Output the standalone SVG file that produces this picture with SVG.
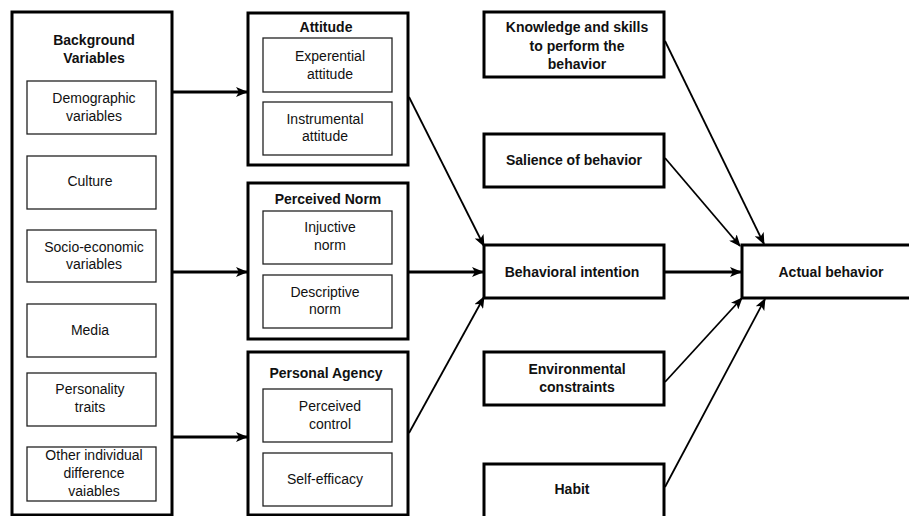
<svg xmlns="http://www.w3.org/2000/svg" width="909" height="516" viewBox="0 0 909 516">
  <style>
    .outer { fill: #fff; stroke: #000; stroke-width: 3; }
    .inner { fill: #fff; stroke: #222; stroke-width: 1.3; }
    text { font-family: "Liberation Sans", Arial, sans-serif; font-size: 14px; fill: #111; text-anchor: middle; }
    .b { font-weight: bold; }
    .thick { stroke: #000; stroke-width: 3; fill: none; }
    .thin { stroke: #000; stroke-width: 1.8; fill: none; }
  </style>
  <defs>
    <marker id="ah" viewBox="0 0 12 10" refX="11" refY="5" markerWidth="12" markerHeight="10" markerUnits="userSpaceOnUse" orient="auto">
      <path d="M0,0 L12,5 L0,10 L3,5 Z" fill="#000"/>
    </marker>
  </defs>
  <rect width="909" height="516" fill="#fff"/>

  <!-- Background variables column -->
  <g id="background">
    <rect class="outer" x="12" y="12" width="160" height="503"/>
    <text class="b" x="94" y="45">Background</text>
    <text class="b" x="94" y="63">Variables</text>
    <rect class="inner" x="27" y="81" width="129" height="53"/>
    <text x="94" y="103">Demographic</text>
    <text x="94" y="121">variables</text>
    <rect class="inner" x="27" y="156" width="129" height="53"/>
    <text x="90" y="186">Culture</text>
    <rect class="inner" x="27" y="230" width="129" height="52"/>
    <text x="94" y="252">Socio-economic</text>
    <text x="94" y="269">variables</text>
    <rect class="inner" x="27" y="304" width="129" height="53"/>
    <text x="90" y="335">Media</text>
    <rect class="inner" x="27" y="373" width="129" height="53"/>
    <text x="90" y="394">Personality</text>
    <text x="90" y="412">traits</text>
    <rect class="inner" x="27" y="447" width="129" height="54"/>
    <text x="94" y="460">Other individual</text>
    <text x="94" y="478">difference</text>
    <text x="94" y="496">vaiables</text>
  </g>

  <!-- Attitude -->
  <g id="attitude">
    <rect class="outer" x="248" y="13" width="160" height="152"/>
    <text class="b" x="326" y="32">Attitude</text>
    <rect class="inner" x="263" y="38" width="129" height="54"/>
    <text x="330" y="61">Experential</text>
    <text x="330" y="79">attitude</text>
    <rect class="inner" x="263" y="102" width="129" height="53"/>
    <text x="325" y="124">Instrumental</text>
    <text x="325" y="141">attitude</text>
  </g>

  <!-- Perceived norm -->
  <g id="perceived-norm">
    <rect class="outer" x="248" y="183" width="160" height="156"/>
    <text class="b" x="328" y="204">Perceived Norm</text>
    <rect class="inner" x="263" y="211" width="129" height="53"/>
    <text x="330" y="232">Injuctive</text>
    <text x="330" y="250">norm</text>
    <rect class="inner" x="263" y="275" width="129" height="53"/>
    <text x="325" y="297">Descriptive</text>
    <text x="325" y="314">norm</text>
  </g>

  <!-- Personal agency -->
  <g id="personal-agency">
    <rect class="outer" x="248" y="352" width="160" height="163"/>
    <text class="b" x="326" y="378">Personal Agency</text>
    <rect class="inner" x="263" y="389" width="129" height="53"/>
    <text x="330" y="411">Perceived</text>
    <text x="330" y="429">control</text>
    <rect class="inner" x="263" y="453" width="129" height="53"/>
    <text x="325" y="484">Self-efficacy</text>
  </g>

  <!-- Right-hand factors -->
  <g id="knowledge">
    <rect class="outer" x="484" y="12" width="180" height="65"/>
    <text class="b" x="577" y="32">Knowledge and skills</text>
    <text class="b" x="577" y="51">to perform the</text>
    <text class="b" x="577" y="69">behavior</text>
  </g>
  <g id="salience">
    <rect class="outer" x="484" y="134" width="180" height="53"/>
    <text class="b" x="574" y="165">Salience of behavior</text>
  </g>
  <g id="intention">
    <rect class="outer" x="484" y="245" width="180" height="53"/>
    <text class="b" x="572" y="277">Behavioral intention</text>
  </g>
  <g id="actual-behavior">
    <rect class="outer" x="742" y="245" width="172" height="53"/>
    <text class="b" x="831" y="277">Actual behavior</text>
  </g>
  <g id="environment">
    <rect class="outer" x="484" y="352" width="180" height="53"/>
    <text class="b" x="577" y="374">Environmental</text>
    <text class="b" x="577" y="392">constraints</text>
  </g>
  <g id="habit">
    <rect class="outer" x="484" y="464" width="180" height="56"/>
    <text class="b" x="572" y="494">Habit</text>
  </g>

  <!-- Connectors -->
  <g id="connectors">
    <line class="thick" x1="172" y1="92" x2="247" y2="92" marker-end="url(#ah)"/>
    <line class="thick" x1="172" y1="272" x2="247" y2="272" marker-end="url(#ah)"/>
    <line class="thick" x1="172" y1="437" x2="247" y2="437" marker-end="url(#ah)"/>
    <line class="thin" x1="409" y1="97" x2="484" y2="246" marker-end="url(#ah)"/>
    <line class="thick" x1="408" y1="272" x2="483" y2="272" marker-end="url(#ah)"/>
    <line class="thin" x1="409" y1="433" x2="484" y2="297" marker-end="url(#ah)"/>
    <line class="thick" x1="664" y1="272" x2="741" y2="272" marker-end="url(#ah)"/>
    <line class="thin" x1="665" y1="41" x2="764" y2="244" marker-end="url(#ah)"/>
    <line class="thin" x1="665" y1="158" x2="740" y2="246" marker-end="url(#ah)"/>
    <line class="thin" x1="665" y1="382" x2="742" y2="298" marker-end="url(#ah)"/>
    <line class="thin" x1="665" y1="487" x2="765" y2="299" marker-end="url(#ah)"/>
  </g>
</svg>
